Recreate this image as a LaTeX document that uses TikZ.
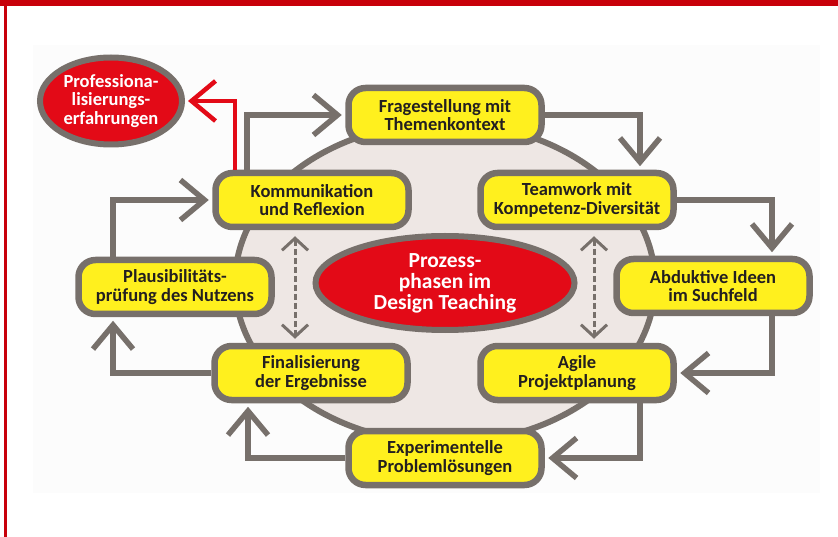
\documentclass[tikz,border=0pt]{standalone}
\usepackage{fontspec}
\setmainfont{Carlito}
\usepackage{tikz}
\usetikzlibrary{arrows.meta,positioning,shapes.geometric}
\definecolor{framered}{HTML}{C8000A}
\definecolor{phasered}{HTML}{E30A17}
\definecolor{phaseyellow}{HTML}{FFF01E}
\definecolor{rimgray}{HTML}{77706B}
\definecolor{stagegray}{HTML}{EEE7E4}
\definecolor{panelgray}{HTML}{FCFCFC}
\definecolor{textdark}{HTML}{231F20}

\begin{document}
\begin{tikzpicture}[
    x=1pt, y=-1pt,
    every node/.style={font=\bfseries\fontsize{18.5}{18.5}\selectfont, align=center, inner sep=0pt},
    phasebox/.style={draw=rimgray, line width=6.5pt, fill=phaseyellow, rounded corners=17pt,
        minimum width=193pt, minimum height=54pt, text=textdark},
    redoval/.style={ellipse, draw=rimgray, line width=6pt, fill=phasered, text=white},
    flow/.style={draw=rimgray, line width=5.5pt, -{Straight Barb[length=24pt,width=40pt]}, shorten >=3.5pt},
    redflow/.style={draw=phasered, line width=4.5pt, -{Straight Barb[length=24pt,width=40pt]}, shorten >=3pt},
    linkflow/.style={draw=rimgray, line width=3pt, dash pattern=on 6pt off 3pt,
        {Straight Barb[length=12pt,width=26pt]}-{Straight Barb[length=12pt,width=26pt]},
        shorten <=6pt, shorten >=4pt}
]
    \useasboundingbox (0,0) rectangle (838,537);

    % Frame and panel
    \fill[framered] (0,0) rectangle (838,6);
    \fill[framered] (4,0) rectangle (7,537);
    \fill[panelgray] (33,45) rectangle (820,493);

    % Stage behind the phases
    \node[ellipse, draw=rimgray, line width=6pt, fill=stagegray,
        minimum width=420pt, minimum height=320pt] (stage) at (445,283) {};

    % Centre
    \node[redoval, minimum width=259pt, minimum height=94pt, font=\bfseries\fontsize{21.5}{21}\selectfont]
        (centre) at (445,283) {Prozess-\\phasen im\\Design Teaching};

    % Phases
    \node[phasebox] (frage) at (445,115) {Fragestellung mit\\Themenkontext};
    \node[phasebox] (team)  at (577,200) {Teamwork mit\\Kompetenz-Diversität};
    \node[phasebox] (abd)   at (713,286) {Abduktive Ideen\\im Suchfeld};
    \node[phasebox] (agile) at (577,373) {Agile\\Projektplanung};
    \node[phasebox] (exp)   at (445,458) {Experimentelle\\Problemlösungen};
    \node[phasebox] (final) at (311,373) {Finalisierung\\der Ergebnisse};
    \node[phasebox] (plaus) at (175,287) {Plausibilitäts-\\prüfung des Nutzens};
    \node[phasebox] (komm)  at (312,200) {Kommunikation\\und Reflexion};

    % Outcome
    \node[redoval, minimum width=142pt, minimum height=87pt] (prof) at (111,101)
        {Professiona-\\lisierungs-\\erfahrungen};

    % Cycle
    \draw[flow] ([xshift=-65pt]komm.north) |- (frage.west);
    \draw[flow] (frage.east) -| ([xshift=63pt]team.north);
    \draw[flow] (team.east) -| ([xshift=59pt]abd.north);
    \draw[flow] ([xshift=59pt]abd.south) |- (agile.east);
    \draw[flow] ([xshift=63pt]agile.south) |- (exp.east);
    \draw[flow] (exp.west) -| ([xshift=-63pt]final.south);
    \draw[flow] (final.west) -| ([xshift=-62pt]plaus.south);
    \draw[flow] ([xshift=-62pt]plaus.north) |- (komm.west);
    \draw[redflow] ([xshift=-77pt]komm.north) |- (prof.east);

    % Links across the stage
    \draw[linkflow] ([xshift=-17pt]komm.south) -- ([xshift=-16pt]final.north);
    \draw[linkflow] ([xshift=17pt]team.south) -- ([xshift=17pt]agile.north);
\end{tikzpicture}
\end{document}
